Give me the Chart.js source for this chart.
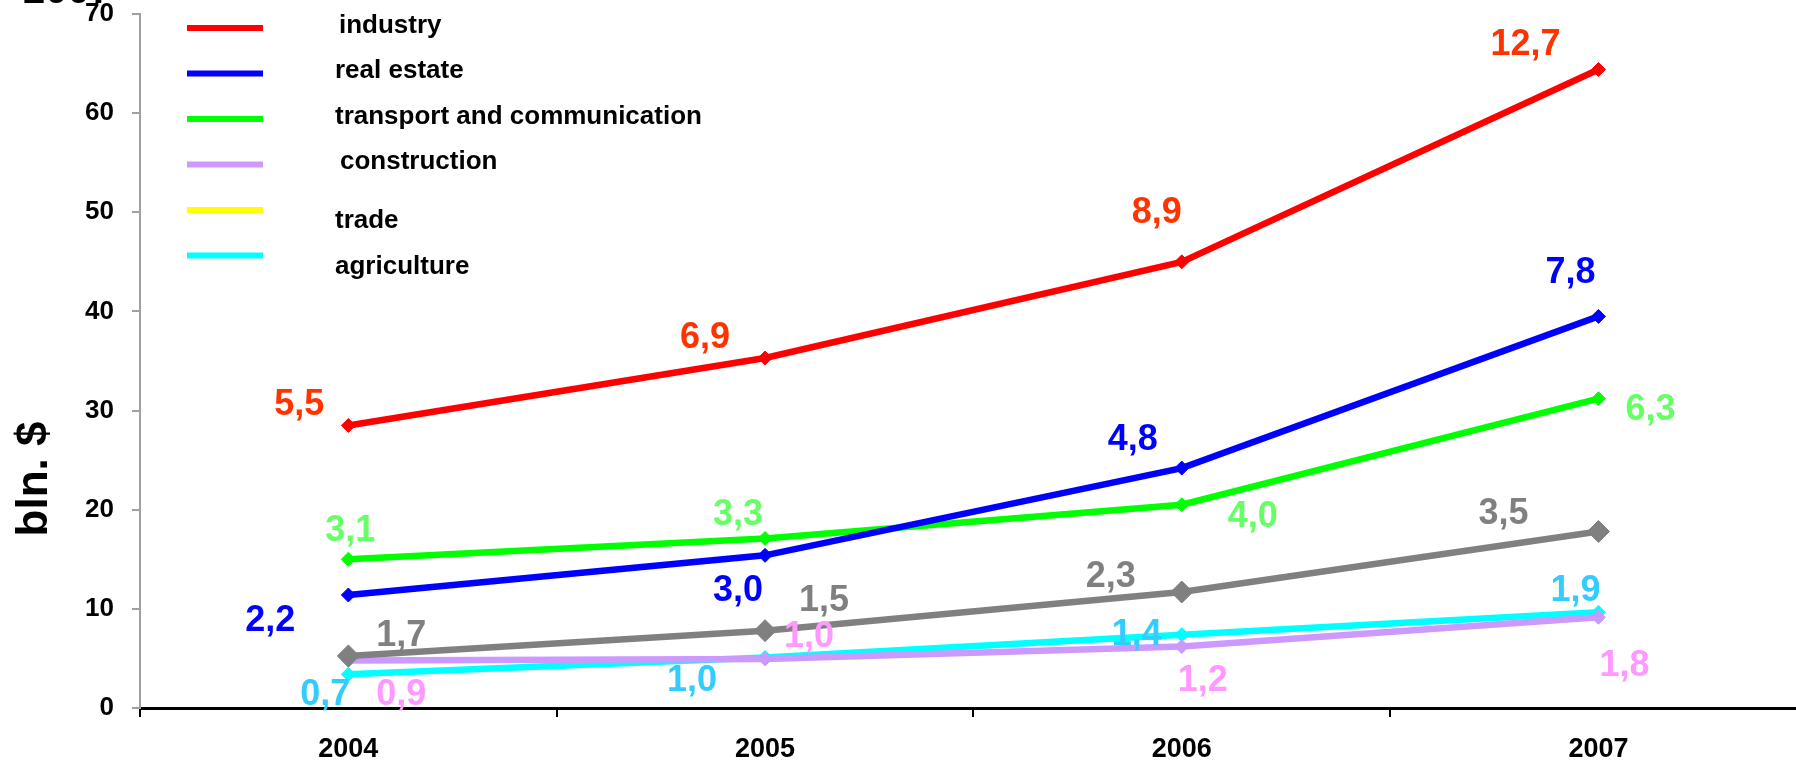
<!DOCTYPE html>
<html>
<head>
<meta charset="utf-8">
<script src="https://cdn.jsdelivr.net/npm/chart.js@4.4.0/dist/chart.umd.min.js"></script>
<style>
  html, body { margin: 0; padding: 0; overflow: hidden; background: #fff; }
</style>
</head>
<body>
<canvas id="myChart" width="1796" height="760"></canvas>
<script>
let years = ['2004', '2005', '2006', '2007'];

let industry     = [28.5, 35.3, 45.0, 64.4];
let realEstate   = [11.4, 15.4, 24.2, 39.5];
let transport    = [15.0, 17.1, 20.5, 31.2];
let trade        = [5.25, 7.8, 11.7, 17.8];
let construction = [4.8, 4.95, 6.2, 9.15];
let agriculture  = [3.4, 5.1, 7.4, 9.65];

let industryLabels     = ['5,5', '6,9', '8,9', '12,7'];
let realEstateLabels   = ['2,2', '3,0', '4,8', '7,8'];
let transportLabels    = ['3,1', '3,3', '4,0', '6,3'];
let tradeLabels        = ['1,7', '1,5', '2,3', '3,5'];
let constructionLabels = ['0,9', '1,0', '1,2', '1,8'];
let agricultureLabels  = ['0,7', '1,0', '1,4', '1,9'];

let legendNames  = ['industry', 'real estate', 'transport and communication', 'construction', 'trade', 'agriculture'];
let legendColors = ['#ff0000', '#0000ff', '#00ff00', '#cc99ff', '#ffff00', '#00ffff'];

let yTicks = [0, 10, 20, 30, 40, 50, 60, 70];

const FONT = '"Liberation Sans", Arial, sans-serif';

// text drawn next to each point, offsets in px from the point
let labelSets = [
    { texts: industryLabels, color: '#ff3300', off: [[-49, -20], [-60, -20], [-25, -49], [-73, -24]] },
    { texts: realEstateLabels, color: '#0000ff', off: [[-78, 26], [-27, 36], [-49, -28], [-28, -43]] },
    { texts: transportLabels, color: '#66ff66', off: [[2, -28], [-27, -23], [71, 12], [52, 11]] },
    { texts: tradeLabels, color: '#808080', off: [[53, -20], [59, -30], [-71, -15], [-95, -17]] },
    { texts: constructionLabels, color: '#ff99ff', off: [[53, 35], [44, -22], [21, 35], [26, 49]] },
    { texts: agricultureLabels, color: '#33ccff', off: [[-23, 21], [-73, 24], [-45, 0], [-23, -21]] }
];

let valueLabels = {
    id: 'valueLabels',
    afterDatasetsDraw(chart) {
        let ctx = chart.ctx;
        ctx.save();
        ctx.font = 'bold 36px ' + FONT;
        ctx.textAlign = 'center';
        ctx.textBaseline = 'middle';
        labelSets.forEach((set, i) => {
            let meta = chart.getDatasetMeta(i);
            ctx.fillStyle = set.color;
            meta.data.forEach((pt, j) => {
                ctx.fillText(set.texts[j], pt.x + set.off[j][0], pt.y + set.off[j][1]);
            });
        });
        ctx.restore();
    }
};

let sideLegend = {
    id: 'sideLegend',
    afterDraw(chart) {
        let ctx = chart.ctx;
        let lineY = [28, 73.5, 119, 164.5, 210, 255.5];
        let textX = [339, 335, 335, 340, 335, 335];
        let textY = [33, 78, 124, 169, 228, 274];
        ctx.save();
        ctx.lineWidth = 6;
        ctx.font = 'bold 26px ' + FONT;
        ctx.textBaseline = 'alphabetic';
        ctx.textAlign = 'left';
        legendNames.forEach((name, i) => {
            ctx.strokeStyle = legendColors[i];
            ctx.beginPath();
            ctx.moveTo(187, lineY[i]);
            ctx.lineTo(263, lineY[i]);
            ctx.stroke();
            ctx.fillStyle = '#000';
            ctx.fillText(name, textX[i], textY[i]);
        });

        // rotated axis title
        ctx.font = 'bold 44px ' + FONT;
        ctx.textAlign = 'center';
        ctx.translate(47, 479);
        ctx.rotate(-Math.PI / 2);
        ctx.fillText('bln. $', 0, 0);
        ctx.restore();

        // remains of a title cut off at the top edge
        ctx.save();
        ctx.font = 'bold 40px ' + FONT;
        ctx.fillStyle = '#000';
        ctx.textAlign = 'left';
        ctx.fillText('2007', 23, 3);
        ctx.restore();
    }
};

function line(values, color, radius) {
    return {
        data: values.map((v, i) => ({ x: i, y: v })),
        borderColor: color,
        backgroundColor: color,
        borderWidth: 6.5,
        tension: 0,
        pointStyle: 'rectRot',
        pointRadius: radius,
        pointBorderWidth: 1,
        pointBorderColor: color,
        pointBackgroundColor: color
    };
}

let ctx = document.getElementById('myChart').getContext('2d');

let myLineChart = new Chart(ctx, {
    type: 'line',
    data: {
        datasets: [
            line(industry, '#ff0000', 7),
            line(realEstate, '#0000ff', 7),
            line(transport, '#00ff00', 7),
            line(trade, '#808080', 11),
            line(construction, '#cc99ff', 7),
            line(agriculture, '#00ffff', 7)
        ]
    },
    options: {
        responsive: false,
        animation: false,
        layout: { padding: 0, autoPadding: false },
        plugins: {
            legend: { display: false },
            tooltip: { enabled: false }
        },
        scales: {
            x: {
                type: 'linear',
                // the last category runs a little past the right edge of the picture
                min: -0.5,
                max: 3.474,
                afterBuildTicks: function (scale) {
                    let t = [];
                    for (let v = -0.5; v <= 3; v += 0.5) t.push({ value: v });
                    scale.ticks = t;
                },
                grid: {
                    drawOnChartArea: false,
                    tickLength: 9,
                    lineWidth: 2,
                    tickColor: c => Number.isInteger(c.tick.value) ? 'rgba(0,0,0,0)' : '#000'
                },
                border: { color: '#000', width: 3 },
                ticks: {
                    color: '#000',
                    font: { family: FONT, size: 27, weight: 'bold' },
                    padding: 16,
                    autoSkip: false,
                    maxRotation: 0,
                    callback: v => Number.isInteger(v) ? years[v] : ''
                },
                afterFit: function (scale) {
                    scale.height = 52;
                    scale.paddingLeft = 0;
                    scale.paddingRight = 0;
                }
            },
            y: {
                min: 0,
                max: 70,
                afterBuildTicks: function (scale) {
                    scale.ticks = yTicks.map(v => ({ value: v }));
                },
                grid: { drawOnChartArea: false, tickLength: 8, color: '#a0a0a0', lineWidth: 2 },
                border: { color: '#a0a0a0', width: 2 },
                ticks: { color: '#000', font: { family: FONT, size: 26, weight: 'bold' }, padding: 18 },
                afterFit: function (scale) {
                    scale.width = 140;
                    scale.paddingTop = 14;
                    scale.paddingBottom = 0;
                }
            }
        }
    },
    plugins: [valueLabels, sideLegend]
});
</script>
</body>
</html>
